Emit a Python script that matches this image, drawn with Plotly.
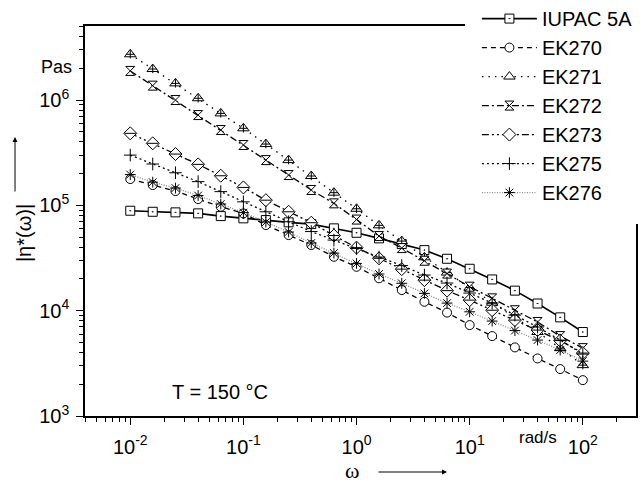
import plotly.graph_objects as go

# Angular frequency sweep, rad/s (5 points per decade)
omega = [0.01, 0.0158, 0.0251, 0.0398, 0.0631, 0.1, 0.158, 0.251, 0.398, 0.631,
         1.0, 1.58, 2.51, 3.98, 6.31, 10.0, 15.8, 25.1, 39.8, 63.1, 100.0]

# Complex viscosity magnitude |eta*|, Pa s, at T = 150 °C
iupac_5a = [88900, 86900, 85800, 83900, 79100, 75300, 72500, 69000, 66400, 60500,
            54900, 48600, 42900, 37600, 31100, 25000, 19800, 15500, 11700, 8640, 6270]
ek270 = [177700, 155900, 136700, 114800, 97000, 83900, 65000, 52200, 42000, 32500,
         26100, 20300, 15700, 12150, 9590, 7300, 5740, 4480, 3520, 2790, 2190]
ek271 = [2.72e6, 1.97e6, 1.44e6, 1.04e6, 747000, 539000, 382000, 269000, 190000, 132000,
         92800, 64600, 45800, 32100, 23000, 16600, 11900, 8600, 6270, 4410, 3040]
ek272 = [1.89e6, 1.37e6, 1.0e6, 720000, 519000, 374000, 269000, 194000, 140000, 104500,
         73300, 51100, 39300, 29800, 22500, 16900, 13100, 10100, 7800, 5740, 4410]
ek273 = [483000, 388000, 307000, 245000, 191000, 148000, 112000, 86900, 68400, 51700,
         39700, 31400, 24800, 19500, 15500, 12600, 10100, 8140, 6540, 5200, 3960]
ek275 = [300000, 247000, 204000, 168000, 135000, 108000, 86900, 69900, 56400, 46800,
         38900, 32300, 26800, 21800, 18300, 14700, 11800, 9080, 6990, 5260, 3870]
ek276 = [196000, 166000, 146000, 124000, 103000, 85400, 69400, 55800, 43900, 35200,
         28100, 22300, 18200, 14600, 11800, 9760, 7970, 6470, 5260, 4230, 3320]

x_tick_vals = [0.01, 0.1, 1, 10, 100]
x_tick_text = ["10<sup>-2</sup>", "10<sup>-1</sup>", "10<sup>0</sup>", "10<sup>1</sup>", "10<sup>2</sup>"]
y_tick_vals = [1e3, 1e4, 1e5, 1e6]
y_tick_text = ["10<sup>3</sup>", "10<sup>4</sup>", "10<sup>5</sup>", "10<sup>6</sup>"]

SANS = "Liberation Sans, Arial, sans-serif"
SERIF = "Liberation Serif, Times New Roman, serif"

series = [
    # name, values, dash, line colour, line width, symbol, fill, size
    ("IUPAC 5A", iupac_5a, "solid", "black", 1.6, "square-dot", "white", 9),
    ("EK270", ek270, "5px,4px", "black", 1.3, "circle", "white", 9),
    ("EK271", ek271, "1.5px,5px", "black", 1.3, "triangle-up", "white", 10),
    ("EK272", ek272, "7px,3px,2px,3px", "black", 1.3, "hourglass", "white", 9),
    ("EK273", ek273, "7px,3px,2px,3px,2px,3px", "black", 1.3, "diamond", "white", 10),
    ("EK275", ek275, "2px,3px", "black", 1.3, "cross-thin-open", "black", 9),
    ("EK276", ek276, "1px,1.5px", "#8a8a8a", 1.3, "asterisk-open", "black", 9),
]

fig = go.Figure()
for name, vals, dash, lcol, lw, sym, fill, size in series:
    fig.add_trace(go.Scatter(
        x=omega, y=vals, name=name, legendgroup=name,
        mode="lines+markers",
        line=dict(color=lcol, width=lw, dash=dash),
        marker=dict(symbol=sym, size=size, color=fill,
                    line=dict(color="black", width=1)),
    ))
    # inner strokes of the triangle and diamond glyphs
    if name == "EK271":
        fig.add_trace(go.Scatter(x=omega, y=vals, mode="markers", legendgroup=name,
                                 showlegend=False, hoverinfo="skip",
                                 marker=dict(symbol="cross-thin-open", size=6, color="black",
                                             line=dict(color="black", width=1))))
    if name == "EK273":
        fig.add_trace(go.Scatter(x=omega, y=vals, mode="markers", legendgroup=name,
                                 showlegend=False, hoverinfo="skip",
                                 marker=dict(symbol="line-ew-open", size=8, color="black",
                                             line=dict(color="black", width=1))))

# minor tick positions, 2..9 in every decade
x_minor = [m * 10 ** e for e in range(-3, 3) for m in range(2, 10) if 0.004 <= m * 10 ** e <= 290]
y_minor = [m * 10 ** e for e in range(3, 7) for m in range(2, 10) if m * 10 ** e <= 5.0e6]

axis_common = dict(
    showline=True, linecolor="black", linewidth=1.6, mirror=True,
    ticks="outside", ticklen=7, tickwidth=1.4, tickcolor="black",
    showgrid=False, zeroline=False,
    tickfont=dict(family=SANS, size=20, color="black"),
)

fig.update_xaxes(type="log", range=[-2.40, 2.47], tickmode="array",
                 tickvals=x_tick_vals, ticktext=x_tick_text, ticklabelstandoff=5,
                 minor=dict(ticks="outside", ticklen=4, tickwidth=1, tickcolor="black",
                            tickmode="array", tickvals=x_minor, showgrid=False),
                 **axis_common)
fig.update_yaxes(type="log", range=[3, 6.703], tickmode="array",
                 tickvals=y_tick_vals, ticktext=y_tick_text, ticklabelstandoff=3,
                 minor=dict(ticks="outside", ticklen=4, tickwidth=1, tickcolor="black",
                            tickmode="array", tickvals=y_minor, showgrid=False),
                 **axis_common)

centred = dict(xref="paper", yref="paper", xanchor="center", yanchor="middle")
annotations = [
    # y-axis title with upward arrow
    dict(text="|η*(ω)|", x=-0.1107, y=0.469, textangle=-90, showarrow=False,
         font=dict(family=SANS, size=20, color="black"), **centred),
    dict(text="", x=-0.127, y=0.7154, ax=0, ay=56, showarrow=True,
         arrowhead=2, arrowsize=1, arrowwidth=1, arrowcolor="black", **centred),
    # x-axis title with arrow to the right
    dict(text="ω", x=0.4842, y=-0.1385, showarrow=False,
         font=dict(family=SERIF, size=22, color="black"), **centred),
    dict(text="", x=0.657, y=-0.1436, ax=-70, ay=0, showarrow=True,
         arrowhead=2, arrowsize=1, arrowwidth=1, arrowcolor="black", **centred),
    # units
    dict(text="rad/s", x=0.822, y=-0.054, showarrow=False,
         font=dict(family=SANS, size=17, color="black"), **centred),
    dict(text="Pas", x=-0.051, y=0.895, showarrow=False,
         font=dict(family=SANS, size=18, color="black"), **centred),
    # test temperature
    dict(text="T = 150 °C", x=0.245, y=0.0615, showarrow=False,
         font=dict(family=SANS, size=20, color="black"), **centred),
]

fig.update_layout(
    width=641, height=485,
    margin=dict(l=85, r=5, t=26, b=69, autoexpand=False),
    plot_bgcolor="white", paper_bgcolor="white",
    font=dict(family=SANS, size=20, color="black"),
    legend=dict(x=0.6895, y=1.0998, xanchor="left", yanchor="top",
                bgcolor="white", bordercolor="white", borderwidth=12,
                traceorder="grouped", tracegroupgap=0, itemwidth=55,
                font=dict(family=SANS, size=20, color="black")),
    annotations=annotations,
    showlegend=True,
)

fig.write_html("out.html")
